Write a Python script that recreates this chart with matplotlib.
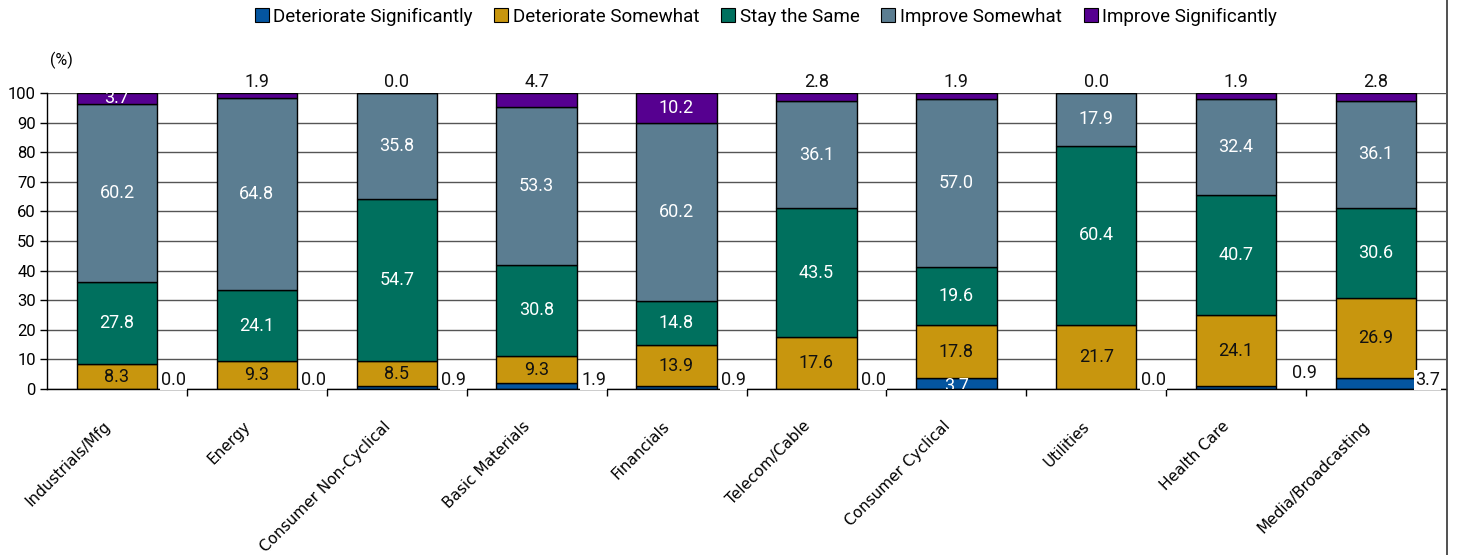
import numpy as np
import matplotlib.pyplot as plt
from matplotlib.lines import Line2D
from matplotlib.transforms import ScaledTranslation

# sector outlook survey, % of respondents
sectors = ['Industrials/Mfg', 'Energy', 'Consumer Non-Cyclical', 'Basic Materials',
           'Financials', 'Telecom/Cable', 'Consumer Cyclical', 'Utilities',
           'Health Care', 'Media/Broadcasting']
det_sig = [0.0, 0.0, 0.9, 1.9, 0.9, 0.0, 3.7, 0.0, 0.9, 3.7]
det_some = [8.3, 9.3, 8.5, 9.3, 13.9, 17.6, 17.8, 21.7, 24.1, 26.9]
same = [27.8, 24.1, 54.7, 30.8, 14.8, 43.5, 19.6, 60.4, 40.7, 30.6]
imp_some = [60.2, 64.8, 35.8, 53.3, 60.2, 36.1, 57.0, 17.9, 32.4, 36.1]
imp_sig = [3.7, 1.9, 0.0, 4.7, 10.2, 2.8, 1.9, 0.0, 1.9, 2.8]

series_names = ['Deteriorate Significantly', 'Deteriorate Somewhat', 'Stay the Same',
                'Improve Somewhat', 'Improve Significantly']
colors = ['#0455A0', '#C8960E', '#00705E', '#5B7D91', '#560090']

NUM_FONT = 'Roboto'
FS = 13

fig = plt.figure(figsize=(14.6, 5.55), dpi=100)
ax = fig.add_axes([47 / 1460, 1 - 389 / 555, (1446 - 47) / 1460, (389 - 93) / 555])

x = np.arange(len(sectors))
w = 0.575
series = [det_sig, det_some, same, imp_some, imp_sig]
bottom = np.zeros(len(sectors))
for vals, c in zip(series, colors):
    ax.bar(x, vals, w, bottom=bottom, color=c, edgecolor='black', linewidth=1, zorder=2)
    bottom += np.array(vals)

# labels for the middle segments
base = np.array(det_sig)
for vals, tc in [(det_some, '#111111'), (same, 'white'), (imp_some, 'white')]:
    for i, v in enumerate(vals):
        ax.text(i, base[i] + v / 2, f'{v:.1f}', ha='center', va='center',
                color=tc, fontsize=FS, family=NUM_FONT, zorder=4)
    base = base + np.array(vals)

# improve significantly: inside when the segment is tall enough, else above the bar
top_inside = [True, False, False, False, True, False, False, False, False, False]
for i, v in enumerate(imp_sig):
    if top_inside[i]:
        ax.text(i, base[i] + v / 2, f'{v:.1f}', ha='center', va='center',
                color='white', fontsize=FS, family=NUM_FONT, zorder=4, clip_on=True)
    else:
        ax.text(i, 100.8, f'{v:.1f}', ha='center', va='bottom', color='#111111',
                fontsize=FS, family=NUM_FONT, zorder=4, clip_on=False)

# deteriorate significantly: mostly placed beside the bar
bot_offsets = {8: (11, 5), 9: (-1, 0)}
for i, v in enumerate(det_sig):
    if i == 6:
        ax.text(i, v / 2 - 0.9, f'{v:.1f}', ha='center', va='center', color='white',
                fontsize=FS, family=NUM_FONT, zorder=4, clip_on=True)
        continue
    dx, dy = bot_offsets.get(i, (3, 0))
    ax.annotate(f'{v:.1f}', (i + w / 2, 0), xytext=(dx, dy), textcoords='offset points',
                ha='left', va='bottom', fontsize=FS, family=NUM_FONT, color='#111111',
                zorder=5, annotation_clip=False,
                bbox=dict(boxstyle='square,pad=0.05', fc='white', ec='none'))

ax.set_xlim(-0.5, len(sectors) - 0.5)
ax.set_ylim(0, 100)
ax.set_yticks(np.arange(0, 101, 10))
ax.tick_params(axis='y', labelsize=12, length=5, width=1, pad=3)
for lab in ax.get_yticklabels():
    lab.set_family(NUM_FONT)
ax.yaxis.grid(True, color='#555555', linewidth=1)
ax.set_axisbelow(True)

ax.set_xticks(x)
ax.set_xticklabels(sectors, rotation=45, ha='right', va='center', rotation_mode='anchor',
                   fontsize=11)
ax.tick_params(axis='x', length=0, pad=25)
shift = ScaledTranslation(-9 / 100, 0, fig.dpi_scale_trans)
for lab in ax.get_xticklabels():
    lab.set_transform(lab.get_transform() + shift)
ax.set_xticks(np.arange(0.5, len(sectors) - 0.5, 1), minor=True)
ax.tick_params(axis='x', which='minor', length=5, width=1)

for s in ['top', 'right']:
    ax.spines[s].set_visible(False)
ax.spines['left'].set_linewidth(1)
ax.spines['bottom'].set_linewidth(1)

fig.text(50 / 1460, 1 - 60 / 555, '(%)', fontsize=11.5, family=NUM_FONT, va='center')

handles = [Line2D([], [], marker='s', linestyle='none', markersize=9.5, markerfacecolor=c,
                  markeredgecolor='black', markeredgewidth=0.8) for c in colors]
fig.legend(handles, series_names, loc='center', bbox_to_anchor=(765 / 1460, 1 - 17 / 555),
           ncol=5, frameon=False, handletextpad=0.15, columnspacing=1.1,
           handlelength=0.9, prop={'family': NUM_FONT, 'size': 13.5})

# frame line on the right edge
fig.add_artist(Line2D([1447 / 1460, 1447 / 1460], [0, 1], color='#333333', linewidth=1.2))

fig.savefig('out.png', dpi=100)
